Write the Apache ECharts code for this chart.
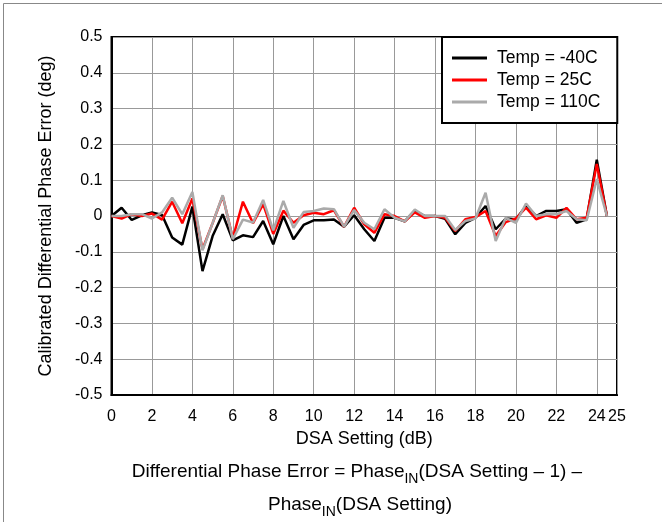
<!DOCTYPE html>
<html>
<head>
<meta charset="utf-8">
<script src="https://cdn.jsdelivr.net/npm/echarts@6/dist/echarts.min.js"></script>
<style>html,body{margin:0;padding:0;background:#fff}#c{width:662px;height:522px}</style>
</head>
<body>
<div id="c"></div>
<script>
const dsaSettings = [0,0.5,1,1.5,2,2.5,3,3.5,4,4.5,5,5.5,6,6.5,7,7.5,8,8.5,9,9.5,10,10.5,11,11.5,12,12.5,13,13.5,14,14.5,15,15.5,16,16.5,17,17.5,18,18.5,19,19.5,20,20.5,21,21.5,22,22.5,23,23.5,24,24.5];
const tempM40 = [0,0.023,-0.011,0.002,0.01,0.003,-0.06,-0.08,0.026,-0.154,-0.056,0.005,-0.068,-0.054,-0.059,-0.014,-0.079,0,-0.065,-0.025,-0.012,-0.012,-0.01,-0.03,0.002,-0.037,-0.07,-0.005,-0.005,-0.015,0.014,0,0,-0.008,-0.051,-0.019,-0.005,0.028,-0.037,-0.007,-0.009,0.028,0,0.014,0.014,0.019,-0.019,-0.009,0.157,0];
const temp25 = [0,-0.007,0.005,0,0.007,-0.01,0.04,-0.02,0.049,-0.093,-0.02,0.056,-0.062,0.04,-0.02,0.033,-0.05,0.015,-0.019,0.002,0.009,0.005,0.016,-0.03,0.023,-0.023,-0.047,0.005,0,-0.015,0.01,-0.005,0,-0.005,-0.042,-0.009,-0.003,0.014,-0.056,-0.017,-0.007,0.023,-0.009,0.002,-0.005,0.023,-0.009,-0.005,0.145,0];
const temp110 = [0,0,0.005,0.005,-0.007,0.01,0.051,0.005,0.067,-0.096,-0.02,0.058,-0.065,-0.01,-0.018,0.045,-0.04,0.042,-0.033,0.011,0.014,0.021,0.019,-0.03,0.017,-0.019,-0.037,0.019,-0.005,-0.015,0.018,0,0,0,-0.039,-0.014,-0.007,0.065,-0.07,-0.005,-0.019,0.035,0,0.005,0.005,0.014,-0.009,-0.012,0.103,0];
const seriesNames = ['Temp = -40C','Temp = 25C','Temp = 110C'];

function pairs(ys){ return dsaSettings.map((x,i)=>[x, ys[i]]); }

const chart = echarts.init(document.getElementById('c'));
const font = 'Liberation Sans, Arial, sans-serif';
const rich = {
  n: {fontSize: 19, lineHeight: 28, fill: '#000', fontFamily: font},
  s: {fontSize: 14, lineHeight: 16, verticalAlign: 'bottom', fill: '#000', fontFamily: font}
};
chart.setOption({
  animation: false,
  textStyle: {fontFamily: font},
  grid: {left: 111.5, right: 45, top: 37, bottom: 127, show: true, borderColor: '#000', borderWidth: 2, containLabel: false},
  xAxis: {
    type: 'value', min: 0, max: 25, interval: 2,
    name: 'DSA Setting (dB)', nameLocation: 'middle', nameGap: 33,
    nameTextStyle: {fontSize: 18, color: '#000', fontFamily: font},
    axisLine: {show: true, onZero: false, lineStyle: {color: '#000', width: 2}},
    axisTick: {show: false},
    axisLabel: {fontSize: 16, color: '#000', margin: 14, fontFamily: font},
    splitLine: {show: true, lineStyle: {color: '#999', width: 1}}
  },
  yAxis: {
    type: 'value', min: -0.5, max: 0.5, interval: 0.1,
    name: 'Calibrated Differential Phase Error (deg)', nameLocation: 'middle', nameGap: 56,
    nameTextStyle: {fontSize: 18, color: '#000', fontFamily: font},
    axisLine: {show: true, onZero: false, lineStyle: {color: '#000', width: 2}},
    axisTick: {show: false},
    axisLabel: {fontSize: 16, color: '#000', margin: 9, fontFamily: font},
    splitLine: {show: true, lineStyle: {color: '#999', width: 1}}
  },
  legend: {
    left: 442, top: 37, orient: 'vertical',
    data: seriesNames,
    icon: 'rect', itemWidth: 35, itemHeight: 3, itemGap: 4,
    padding: [12, 17, 12, 10],
    borderColor: '#000', borderWidth: 2, backgroundColor: '#fff',
    textStyle: {fontSize: 17.5, color: '#000', fontFamily: font, padding: [0,0,0,5]}
  },
  series: [
    {name: seriesNames[0], type: 'line', data: pairs(tempM40), showSymbol: false, symbol: 'none', lineStyle: {color: '#000', width: 2.5}, itemStyle: {color: '#000'}, z: 2},
    {name: seriesNames[1], type: 'line', data: pairs(temp25), showSymbol: false, symbol: 'none', lineStyle: {color: '#ff0000', width: 2.5}, itemStyle: {color: '#ff0000'}, z: 3},
    {name: seriesNames[2], type: 'line', data: pairs(temp110), showSymbol: false, symbol: 'none', lineStyle: {color: '#aaaaaa', width: 2.5}, itemStyle: {color: '#aaaaaa'}, z: 4}
  ],
  graphic: [
    {type: 'rect', left: 1, top: 1, shape: {width: 659, height: 519}, style: {fill: 'none', stroke: '#888', lineWidth: 1}, silent: true},
    {type: 'text', x: 357, y: 458, style: {
      text: '{n|Differential Phase Error = Phase}{s|IN}{n|(DSA Setting – 1) –}', align: 'center', rich: rich
    }},
    {type: 'text', x: 360, y: 491, style: {
      text: '{n|Phase}{s|IN}{n|(DSA Setting)}', align: 'center', rich: rich
    }}
  ]
});
</script>
</body>
</html>
